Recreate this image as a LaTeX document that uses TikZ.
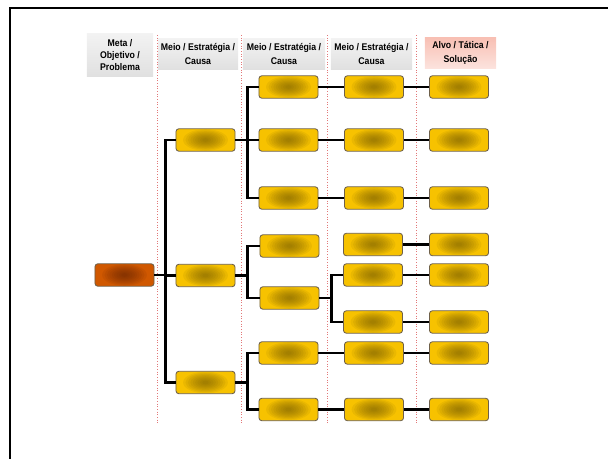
\documentclass[tikz,border=0pt]{standalone}
\usepackage{fontspec}
\newfontfamily\hdrfont[FakeStretch=0.9]{Liberation Sans}
\usepackage{tikz}
\usetikzlibrary{calc,positioning}
\definecolor{gold}{RGB}{247,194,0}
\definecolor{golddk}{RGB}{110,84,0}
\definecolor{rust}{RGB}{208,88,0}
\definecolor{rustdk}{RGB}{90,32,0}
\definecolor{boxline}{RGB}{110,96,74}
\definecolor{pinkhd}{RGB}{248,192,180}
\definecolor{guide}{RGB}{226,120,120}
% soft dark spot in the middle of a box
\newcommand{\spot}[1]{%
  \foreach \r in {0,...,8}
    \fill[#1,opacity=0.09] (path picture bounding box.center)
      ellipse ({0.56cm-0.06cm*\r} and {0.27cm-0.028cm*\r});}

\begin{document}
\begin{tikzpicture}[x=0.025cm,y=-0.025cm,
  box/.style={rectangle,rounded corners=2pt,draw=boxline,line width=0.6pt,
    minimum width=1.475cm,minimum height=0.56cm,inner sep=0pt,fill=gold,
    path picture={\spot{golddk}}},
  goal/.style={box,fill=rust,path picture={\spot{rustdk}}},
  hdr/.style={rectangle,inner sep=0pt,align=center,
    font=\hdrfont\bfseries\fontsize{6.9}{8.6}\selectfont,
    top color=gray!10,bottom color=gray!24},
  wire/.style={line width=1.6pt,black},
  sep/.style={guide,line width=0.45pt,dash pattern=on 0.6pt off 1.3pt}]
\useasboundingbox (0,0) rectangle (608,459);
\draw[line width=1.5pt] (10,459) |- (608,8);
% column headers
\node[hdr,minimum width=1.65cm,minimum height=1.05cm] (h1) at (120,55) {Meta /\\Objetivo /\\Problema};
\node[hdr,minimum width=2cm,minimum height=0.75cm] (h2) at (198,54) {Meio / Estratégia /\\[1pt]Causa};
\node[hdr,minimum width=2.05cm,minimum height=0.75cm] (h3) at (284,54) {Meio / Estratégia /\\[1pt]Causa};
\node[hdr,minimum width=2.03cm,minimum height=0.75cm] (h4) at (371.5,54) {Meio / Estratégia /\\[1pt]Causa};
\node[hdr,minimum width=1.78cm,minimum height=0.75cm,top color=pinkhd,bottom color=pinkhd!45] (h5) at (460.5,53) {Alvo / Tática /\\[1pt]Solução};
% column separators
\foreach \x in {157,241,327,416} \draw[sep] (\x,35) -- (\x,425);
% boxes
\node[goal] (m0) at (124.5,275) {};
\node[box] (a1) at (205.5,140) {};
\node[box] (a2) at (205.5,275.5) {};
\node[box] (a3) at (205.5,382.5) {};
\node[box] (b1) at (288.5,87) {};
\node[box] (b2) at (288.5,140) {};
\node[box] (b3) at (288.5,198) {};
\node[box] (b4) at (289.5,246) {};
\node[box] (b5) at (289.5,298) {};
\node[box] (b6) at (288.5,353) {};
\node[box] (b7) at (288.5,409.5) {};
\node[box] (c1) at (374,87) {};
\node[box] (c2) at (374,140) {};
\node[box] (c3) at (374,198) {};
\node[box] (c4) at (373,244.5) {};
\node[box] (c5) at (373,275) {};
\node[box] (c6) at (373,322) {};
\node[box] (c7) at (374,353) {};
\node[box] (c8) at (374,409.5) {};
\node[box] (d1) at (459,87) {};
\node[box] (d2) at (459,140) {};
\node[box] (d3) at (459,198) {};
\node[box] (d4) at (459,244.5) {};
\node[box] (d5) at (459,275) {};
\node[box] (d6) at (459,322) {};
\node[box] (d7) at (459,353) {};
\node[box] (d8) at (459,409.5) {};
% connectors
\foreach \c in {a1,a2,a3} \draw[wire] (m0.east) -- ++(11,0) |- (\c.west);
\foreach \c in {b1,b2,b3} \draw[wire] (a1.east) -- ++(12,0) |- (\c.west);
\foreach \c in {b4,b5} \draw[wire] (a2.east) -- ++(12,0) |- (\c.west);
\foreach \c in {b6,b7} \draw[wire] (a3.east) -- ++(12,0) |- (\c.west);
\foreach \c in {c5,c6} \draw[wire] (b5.east) -- ++(12,0) |- (\c.west);
\draw[wire] (b1.east) -- (c1.west);
\draw[wire] (b2.east) -- (c2.west);
\draw[wire] (b3.east) -- (c3.west);
\draw[wire] (b6.east) -- (c7.west);
\draw[wire] (b7.east) -- (c8.west);
\foreach \i in {1,...,8} \draw[wire] (c\i.east) -- (d\i.west);
\end{tikzpicture}
\end{document}
